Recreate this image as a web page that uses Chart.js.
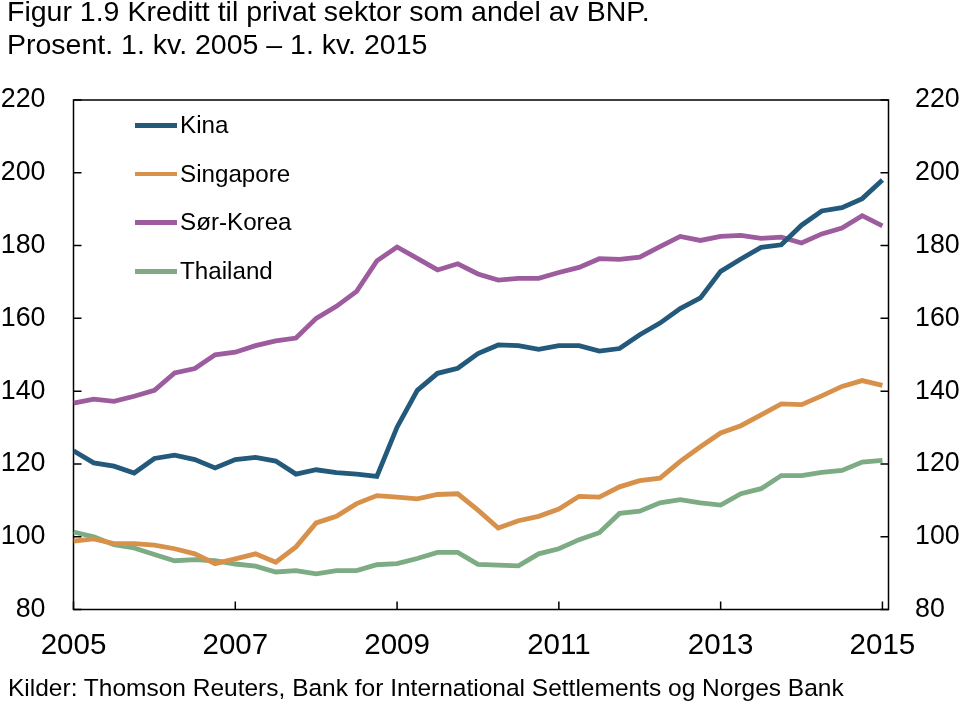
<!DOCTYPE html>
<html>
<head>
<meta charset="utf-8">
<script src="https://cdn.jsdelivr.net/npm/chart.js@4.4.1/dist/chart.umd.min.js"></script>
<style>
  body { margin: 0; background: #fff; }
  #wrap { position: relative; width: 960px; height: 705px; font-family: "Liberation Sans", Arial, sans-serif; color: #000; }
  #title { position: absolute; left: 7px; top: -5px; font-size: 28.5px; line-height: 33px; white-space: nowrap; }
  #source { position: absolute; left: 8px; top: 673px; font-size: 24.5px; line-height: 30px; white-space: nowrap; }
  #legend { position: absolute; left: 135px; top: 110px; }
  .row { position: absolute; left: 0; height: 30px; white-space: nowrap; font-size: 24.2px; line-height: 30px; }
  .row i { position: absolute; left: 0; top: 13px; width: 42px; height: 4.5px; }
  .row span { position: absolute; left: 45px; top: 0; }
  canvas { position: absolute; left: 0; top: 0; }
</style>
</head>
<body>
<div id="wrap">
  <canvas id="chart" width="960" height="705"></canvas>
  <div id="title">Figur 1.9 Kreditt til privat sektor som andel av BNP.<br>Prosent. 1. kv. 2005 – 1. kv. 2015</div>
  <div id="legend"></div>
  <div id="source">Kilder: Thomson Reuters, Bank for International Settlements og Norges Bank</div>
</div>
<script>
// Quarterly data, 1. kv. 2005 - 1. kv. 2015 (41 quarters)
const quarters = [];
for (let y = 2005; y <= 2015; y++) {
    for (let q = 1; q <= 4; q++) {
        if (y === 2015 && q > 1) break;
        quarters.push(y + ' K' + q);
    }
}

const seriesNames = ['Kina', 'Singapore', 'Sør-Korea', 'Thailand'];
const seriesColors = ['#23597a', '#d8914a', '#9c5c9e', '#7cab84'];

const kina = [123.6, 120.3, 119.4, 117.5, 121.5, 122.4, 121.2, 118.9, 121.2, 121.8,
    120.8, 117.2, 118.4, 117.6, 117.2, 116.6, 130.1, 140.2, 144.9, 146.3,
    150.3, 152.7, 152.5, 151.5, 152.5, 152.5, 151.0, 151.7, 155.5, 158.7,
    162.7, 165.6, 172.9, 176.3, 179.5, 180.2, 185.6, 189.5, 190.4, 192.9, 198.0];
const singapore = [98.8, 99.4, 98.1, 98.1, 97.7, 96.7, 95.3, 92.6, 93.9, 95.3,
    93.0, 97.2, 103.8, 105.6, 109.1, 111.3, 110.9, 110.4, 111.6, 111.8,
    107.3, 102.4, 104.4, 105.6, 107.6, 111.1, 110.9, 113.7, 115.4, 116.1,
    120.7, 124.7, 128.5, 130.5, 133.5, 136.5, 136.3, 138.7, 141.3, 142.9, 141.6];
const sorKorea = [136.7, 137.8, 137.2, 138.6, 140.2, 145.0, 146.2, 150.0, 150.7, 152.5,
    153.8, 154.6, 160.0, 163.3, 167.4, 175.8, 179.6, 176.5, 173.3, 175.0,
    172.2, 170.5, 171.0, 171.0, 172.6, 174.0, 176.4, 176.2, 176.8, 179.7,
    182.5, 181.4, 182.5, 182.8, 182.0, 182.3, 180.7, 183.2, 184.8, 188.2, 185.4];
const thailand = [101.3, 100.0, 97.8, 96.9, 95.1, 93.4, 93.7, 93.4, 92.5, 91.9,
    90.3, 90.7, 89.8, 90.7, 90.7, 92.3, 92.6, 94.0, 95.7, 95.7,
    92.4, 92.2, 92.0, 95.3, 96.7, 99.2, 101.1, 106.4, 107.0, 109.3,
    110.2, 109.3, 108.7, 111.8, 113.2, 116.8, 116.8, 117.7, 118.2, 120.5, 121.0];

const seriesValues = [kina, singapore, sorKorea, thailand];

// Axis ticks
const yTicks = [80, 100, 120, 140, 160, 180, 200, 220];
const xTickLabels = ['2005', '2007', '2009', '2011', '2013', '2015'];
const xTickIndex = [0, 8, 16, 24, 32, 40];

// Legend (HTML so the text stays text)
const legend = document.getElementById('legend');
seriesNames.forEach((name, i) => {
    const row = document.createElement('div');
    row.className = 'row';
    row.style.top = (i * 48.7) + 'px';
    row.innerHTML = `<i style="background:${seriesColors[i]}"></i><span>${name}</span>`;
    legend.appendChild(row);
});

// Frame round the plot area plus inward tick marks
const frameTicks = {
    id: 'frameTicks',
    beforeDatasetsDraw(chart) {
        const { ctx, chartArea: a, scales } = chart;
        ctx.save();
        ctx.strokeStyle = '#000';
        ctx.lineWidth = 1.5;
        ctx.strokeRect(a.left, a.top, a.right - a.left, a.bottom - a.top);
        ctx.beginPath();
        yTicks.forEach(v => {
            const y = scales.y.getPixelForValue(v);
            ctx.moveTo(a.left, y); ctx.lineTo(a.left + 8, y);
            ctx.moveTo(a.right, y); ctx.lineTo(a.right - 8, y);
        });
        xTickIndex.forEach(v => {
            const x = scales.x.getPixelForValue(v);
            ctx.moveTo(x, a.bottom); ctx.lineTo(x, a.bottom - 8);
        });
        ctx.stroke();
        ctx.restore();
    }
};

const font = { family: '"Liberation Sans", Arial, sans-serif', size: 26.8 };

new Chart(document.getElementById('chart'), {
    type: 'line',
    data: {
        labels: quarters,
        datasets: seriesNames.map((name, i) => ({
            label: name,
            data: seriesValues[i].map((v, k) => ({ x: k, y: v })),
            borderColor: seriesColors[i],
            backgroundColor: seriesColors[i],
            borderWidth: 4.8,
            pointRadius: 0,
            tension: 0,
            fill: false
        }))
    },
    options: {
        responsive: false,
        animation: false,
        devicePixelRatio: 1,
        layout: { padding: { top: 100, left: 0, right: 0, bottom: 0 } },
        plugins: { legend: { display: false }, tooltip: { enabled: false } },
        scales: {
            x: {
                type: 'linear',
                min: 0,
                max: 40.3,
                grid: { display: false, drawTicks: false },
                border: { display: false },
                afterBuildTicks: s => { s.ticks = xTickIndex.map(v => ({ value: v })); },
                afterFit: s => { s.height = 95.5; },
                ticks: {
                    autoSkip: false,
                    maxRotation: 0,
                    padding: 18.5,
                    color: '#000',
                    font: { family: font.family, size: 29.5 },
                    callback: v => xTickLabels[xTickIndex.indexOf(v)]
                }
            },
            y: {
                position: 'left',
                min: 80,
                max: 220,
                grid: { display: false, drawTicks: false },
                border: { display: false },
                afterBuildTicks: s => { s.ticks = yTicks.map(v => ({ value: v })); },
                afterFit: s => { s.width = 73.5; },
                ticks: { padding: 28, color: '#000', font: font }
            },
            y2: {
                position: 'right',
                display: true,
                min: 80,
                max: 220,
                grid: { display: false, drawTicks: false },
                border: { display: false },
                afterBuildTicks: s => { s.ticks = yTicks.map(v => ({ value: v })); },
                afterFit: s => { s.width = 71.5; },
                ticks: { padding: 26.5, color: '#000', font: font }
            }
        }
    },
    plugins: [frameTicks]
});
</script>
</body>
</html>
